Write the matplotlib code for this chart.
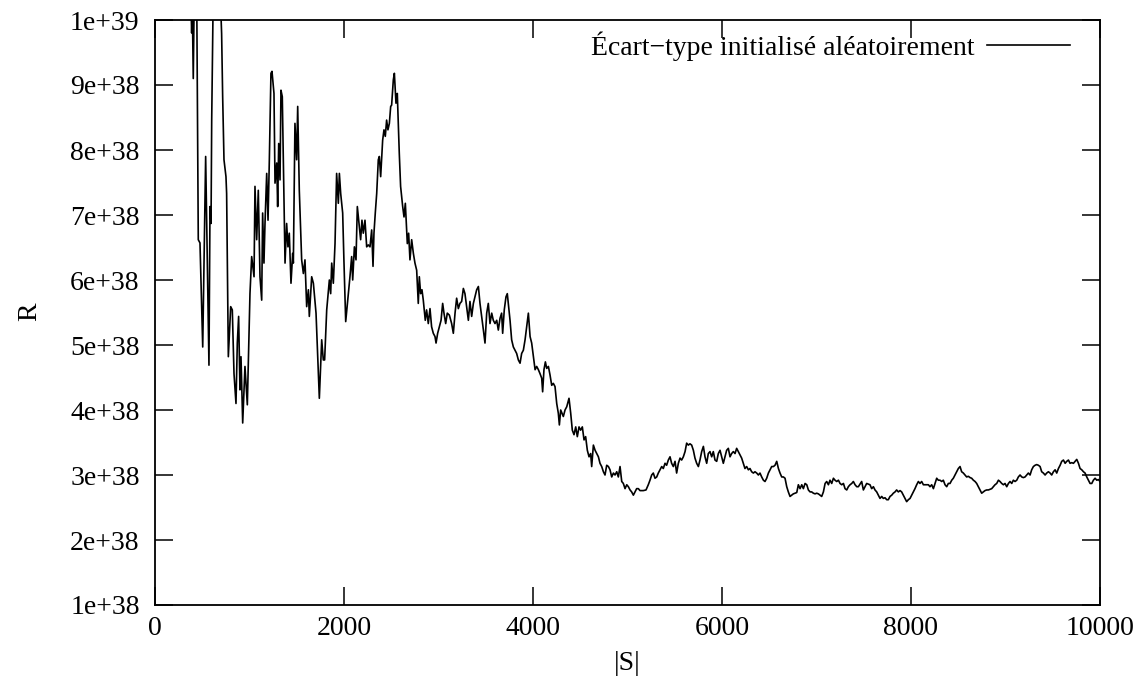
import numpy as np
import matplotlib
matplotlib.use("Agg")
import matplotlib.pyplot as plt
from matplotlib.ticker import FuncFormatter

plt.rcParams['font.family'] = ['Liberation Serif', 'DejaVu Serif']

# |S| values (x) and R values in units of 1e38 (y)
s_early = [370, 380, 388, 395, 405, 420, 430, 441, 458, 476, 505, 536, 571, 582, 593, 600, 617, 650,
           688, 705, 716, 730, 751, 758, 776, 801, 818, 836, 857, 871, 885, 899, 910, 928, 952, 977,
           1005, 1023, 1048, 1058, 1076, 1093, 1111, 1129, 1139, 1153, 1164, 1182, 1196, 1210, 1227,
           1238, 1259, 1270, 1288, 1298, 1309, 1323, 1333, 1347, 1376, 1393, 1407, 1421, 1439, 1457,
           1464, 1481, 1499, 1510, 1527]
r_early = [12, 10.3, 9.8, 10.2, 9.1, 11, 13, 10.5, 6.62, 6.57, 4.97, 7.90, 4.69, 7.13, 6.87, 8.46, 10.5, 13,
           10.5, 9.79, 8.82, 7.85, 7.59, 7.33, 4.82, 5.59, 5.54, 4.56, 4.10, 5.03, 5.44, 4.31, 4.82, 3.80, 4.67, 4.08,
           5.79, 6.36, 6.05, 7.44, 6.62, 7.38, 6.05, 5.69, 7.03, 6.26, 6.87, 7.64, 6.92, 7.85, 9.18,
           9.21, 8.87, 7.49, 7.80, 7.13, 8.10, 7.54, 8.92, 8.82, 6.26, 6.87, 6.51, 6.72, 5.95, 6.41,
           6.26, 8.41, 7.85, 8.67, 7.38]

s_peak = [1552, 1570, 1587, 1605, 1623, 1633, 1658, 1676, 1704, 1739, 1764, 1781, 1795, 1817, 1845, 1859,
          1870, 1887, 1905, 1922, 1940, 1951, 1965, 1986, 1999, 2018, 2046, 2063, 2081, 2092, 2110, 2127,
          2141, 2162, 2176, 2190, 2204, 2222, 2240, 2257, 2275, 2293, 2307, 2317, 2331, 2346, 2363, 2374,
          2388, 2409, 2423, 2437, 2451, 2465, 2480, 2494, 2504, 2522, 2533, 2550, 2564, 2585, 2599, 2621,
          2635, 2649, 2670, 2684, 2698, 2716, 2734, 2751, 2769, 2786, 2797, 2811, 2825, 2839, 2860, 2874,
          2892, 2910, 2927, 2945, 2963, 2974, 2991, 3009, 3027, 3044, 3058, 3076, 3093, 3115]
r_peak = [6.31, 6.10, 6.31, 5.59, 5.85, 5.44, 6.05, 5.95, 5.49, 4.18, 5.08, 4.77, 4.77, 5.54, 6.0, 5.79,
          6.26, 5.95, 6.56, 7.64, 7.18, 7.64, 7.33, 7.03, 6.31, 5.36, 5.79, 6.05, 6.36, 6.0, 6.51, 6.31,
          7.13, 6.82, 6.62, 6.92, 6.72, 6.92, 6.51, 6.54, 6.51, 6.77, 6.21, 6.72, 7.03, 7.33, 7.85, 7.90,
          7.59, 8.15, 8.31, 8.21, 8.46, 8.31, 8.41, 8.67, 8.69, 9.08, 9.18, 8.72, 8.87, 7.95, 7.44, 7.13,
          6.97, 7.18, 6.56, 6.72, 6.31, 6.62, 6.41, 6.26, 6.15, 5.64, 6.05, 5.79, 5.85, 5.69, 5.38, 5.54,
          5.33, 5.56, 5.28, 5.18, 5.13, 5.03, 5.18, 5.28, 5.38, 5.64, 5.49, 5.33, 5.49, 5.46]

s_decline = [3139, 3157, 3175, 3192, 3210, 3227, 3245, 3263, 3280, 3298, 3316, 3333, 3351, 3369, 3386, 3404,
             3422, 3439, 3457, 3475, 3492, 3510, 3527, 3545, 3563, 3580, 3598, 3616, 3633, 3651, 3668, 3679,
             3696, 3714, 3728, 3742, 3757, 3774, 3792, 3810, 3827, 3845, 3863, 3880, 3898, 3916, 3933, 3951,
             3969, 3986, 4004, 4022, 4039, 4057, 4074, 4092, 4102, 4116, 4131, 4145, 4163, 4180, 4198, 4215,
             4233, 4251, 4268, 4279, 4293, 4307, 4321, 4339, 4357, 4381, 4399, 4416, 4434, 4452, 4469, 4487,
             4504, 4522, 4540, 4557, 4575, 4593, 4610, 4621, 4639, 4657, 4674, 4692, 4709, 4727, 4745, 4762,
             4780, 4798, 4815, 4833, 4851, 4868, 4886, 4903, 4921, 4939, 4956, 4974, 4992, 5009, 5027, 5044,
             5062, 5080, 5097]
r_decline = [5.33, 5.18, 5.49, 5.72, 5.56, 5.64, 5.67, 5.87, 5.79, 5.59, 5.38, 5.67, 5.44, 5.64, 5.74, 5.85,
             5.90, 5.64, 5.44, 5.23, 5.03, 5.49, 5.64, 5.33, 5.49, 5.38, 5.33, 5.38, 5.23, 5.41, 5.49, 5.18,
             5.54, 5.74, 5.79, 5.59, 5.38, 5.08, 4.97, 4.92, 4.87, 4.77, 4.72, 4.87, 4.92, 5.08, 5.28, 5.49,
             5.13, 5.03, 4.82, 4.62, 4.67, 4.62, 4.56, 4.49, 4.28, 4.62, 4.74, 4.64, 4.67, 4.54, 4.38, 4.41,
             4.36, 4.10, 3.95, 3.77, 4.00, 3.95, 3.90, 4.00, 4.05, 4.18, 3.95, 3.69, 3.62, 3.74, 3.59, 3.74,
             3.69, 3.74, 3.54, 3.59, 3.38, 3.28, 3.33, 3.13, 3.46, 3.38, 3.33, 3.28, 3.18, 3.13, 3.05, 3.00,
             3.15, 3.13, 3.08, 2.97, 3.03, 3.00, 3.05, 2.97, 3.13, 2.90, 2.87, 2.79, 2.85, 2.82, 2.77, 2.74,
             2.69, 2.74, 2.79]

s_mid = [5115, 5132, 5167, 5196, 5220, 5238, 5256, 5273, 5291, 5309, 5326, 5344, 5362, 5379, 5397, 5414,
         5432, 5450, 5467, 5485, 5503, 5520, 5538, 5556, 5573, 5591, 5609, 5626, 5644, 5661, 5679, 5697,
         5714, 5732, 5750, 5767, 5785, 5803, 5820, 5838, 5855, 5873, 5891, 5908, 5926, 5944, 5961, 5979,
         5997, 6014, 6032, 6049, 6067, 6085, 6102, 6120, 6138, 6155, 6173, 6191, 6208, 6226, 6243, 6261,
         6279, 6296, 6314, 6332, 6349, 6367, 6385, 6402, 6420, 6438, 6455, 6473, 6491, 6508, 6526, 6544,
         6561, 6579, 6597, 6614, 6632, 6650, 6667, 6685, 6702, 6720, 6738, 6755, 6773, 6791, 6808, 6826,
         6844, 6861, 6879, 6897, 6914, 6932, 6949, 6967, 6985, 7002, 7020, 7038, 7055, 7073, 7091, 7108,
         7126, 7143, 7161, 7179, 7196, 7214, 7232, 7249, 7267, 7285, 7302, 7320, 7337, 7355, 7373, 7390,
         7408, 7426, 7443]
r_mid = [2.79, 2.76, 2.76, 2.77, 2.85, 2.92, 3.00, 3.03, 2.95, 2.97, 3.03, 3.08, 3.13, 3.10, 3.18, 3.15,
         3.23, 3.28, 3.18, 3.13, 3.21, 3.03, 3.18, 3.26, 3.23, 3.28, 3.36, 3.49, 3.46, 3.48, 3.46, 3.38,
         3.26, 3.18, 3.13, 3.23, 3.36, 3.44, 3.28, 3.18, 3.33, 3.36, 3.28, 3.36, 3.23, 3.21, 3.33, 3.38,
         3.28, 3.18, 3.28, 3.38, 3.41, 3.28, 3.33, 3.36, 3.33, 3.41, 3.36, 3.31, 3.26, 3.18, 3.10, 3.13,
         3.08, 3.10, 3.05, 3.03, 3.05, 3.03, 3.00, 3.03, 2.97, 2.92, 2.90, 2.95, 3.03, 3.08, 3.13, 3.13,
         3.15, 3.21, 3.10, 3.03, 2.97, 2.97, 2.95, 2.82, 2.74, 2.67, 2.69, 2.71, 2.72, 2.73, 2.85, 2.79,
         2.85, 2.79, 2.87, 2.85, 2.77, 2.74, 2.74, 2.72, 2.71, 2.72, 2.71, 2.69, 2.67, 2.74, 2.87, 2.90,
         2.85, 2.92, 2.87, 2.95, 2.92, 2.90, 2.92, 2.87, 2.85, 2.87, 2.79, 2.77, 2.82, 2.85, 2.87, 2.90,
         2.85, 2.82, 2.82]

s_late = [7478, 7496, 7514, 7531, 7566, 7584, 7602, 7619, 7637, 7654, 7672, 7690, 7707, 7725, 7743, 7760,
          7778, 7796, 7813, 7831, 7848, 7866, 7884, 7901, 7919, 7937, 7954, 7972, 7990, 8007, 8025, 8042,
          8060, 8078, 8095, 8113, 8131, 8148, 8166, 8184, 8201, 8219, 8237, 8254, 8272, 8289, 8307, 8325,
          8342, 8360, 8378, 8395, 8413, 8431, 8448, 8466, 8483, 8501, 8519, 8536, 8554, 8572, 8589, 8607,
          8625, 8642, 8660, 8678, 8695, 8713, 8730, 8748, 8766, 8783, 8801, 8819, 8836, 8854, 8872, 8889,
          8907, 8925, 8942, 8960, 8978, 8995, 9013, 9031, 9048, 9066, 9083, 9101, 9119, 9136, 9154, 9172,
          9189, 9207, 9225, 9242, 9260, 9277, 9295, 9313, 9330, 9348, 9366, 9383, 9401, 9419, 9436, 9454,
          9472, 9489, 9507, 9525, 9542, 9560, 9578, 9595, 9613, 9631, 9648, 9666, 9683, 9701, 9719, 9736,
          9754, 9772, 9789, 9807, 9825, 9842, 9860, 9877, 9895, 9913, 9930, 9948, 9966, 9983, 10000]
r_late = [2.90, 2.77, 2.82, 2.87, 2.85, 2.79, 2.82, 2.77, 2.74, 2.69, 2.64, 2.67, 2.64, 2.65, 2.62, 2.62,
          2.67, 2.69, 2.72, 2.74, 2.77, 2.74, 2.76, 2.74, 2.69, 2.64, 2.59, 2.62, 2.64, 2.69, 2.74, 2.79,
          2.85, 2.90, 2.87, 2.90, 2.85, 2.85, 2.85, 2.85, 2.82, 2.85, 2.79, 2.87, 2.95, 2.92, 2.92, 2.90,
          2.92, 2.85, 2.82, 2.87, 2.87, 2.92, 2.95, 3.00, 3.05, 3.10, 3.13, 3.05, 3.03, 3.00, 2.97, 2.98,
          2.96, 2.95, 2.92, 2.90, 2.87, 2.82, 2.77, 2.72, 2.74, 2.76, 2.77, 2.77, 2.78, 2.79, 2.82, 2.85,
          2.87, 2.92, 2.90, 2.87, 2.85, 2.87, 2.82, 2.87, 2.90, 2.87, 2.92, 2.90, 2.92, 2.97, 3.00, 2.97,
          2.96, 2.97, 3.00, 3.03, 3.00, 3.08, 3.13, 3.15, 3.16, 3.15, 3.13, 3.05, 3.03, 3.00, 3.03, 3.05,
          3.03, 3.00, 3.05, 3.08, 3.03, 3.10, 3.15, 3.21, 3.23, 3.18, 3.21, 3.23, 3.18, 3.19, 3.18, 3.21,
          3.24, 3.18, 3.10, 3.08, 3.05, 3.03, 2.97, 2.92, 2.87, 2.87, 2.92, 2.95, 2.92, 2.93, 2.90]

x_ticks = [0, 2000, 4000, 6000, 8000, 10000]
y_ticks = [1e38, 2e38, 3e38, 4e38, 5e38, 6e38, 7e38, 8e38, 9e38, 1e39]
series_label = "Écart\u2212type initialisé aléatoirement"

s_all = np.array(s_early + s_peak + s_decline + s_mid + s_late, dtype=float)
r_all = np.array(r_early + r_peak + r_decline + r_mid + r_late, dtype=float) * 1e38

W, H = 1144, 679
fig = plt.figure(figsize=(W / 100, H / 100), dpi=100)
ax = fig.add_axes([155 / W, 1 - 605 / H, 945 / W, 585 / H])
ax.plot(s_all, r_all, color='black', lw=1.2, label=series_label)
ax.set_xlim(0, 10000)
ax.set_ylim(1e38, 1e39)
ax.set_xticks(x_ticks)
ax.set_yticks(y_ticks)
ax.yaxis.set_major_formatter(FuncFormatter(lambda v, p: '%.0e' % v))
ax.tick_params(direction='in', length=13, width=1.1, top=True, right=True, labelsize=20)
ax.tick_params(axis='x', pad=8)
ax.tick_params(axis='y', pad=11)
for sp in ax.spines.values():
    sp.set_linewidth(1.3)

ax.legend(loc='upper right', bbox_to_anchor=(1 - 19 / 945, 1), borderaxespad=0,
          frameon=False, fontsize=20, handlelength=3.0, handletextpad=0.45, markerfirst=False)

fig.text(627 / W, 1 - 663 / H, '|S|', ha='center', va='center', fontsize=20)
fig.text(30 / W, 1 - 312 / H, 'R', ha='center', va='center', fontsize=20, rotation=90)

fig.savefig('out.png', dpi=100)
